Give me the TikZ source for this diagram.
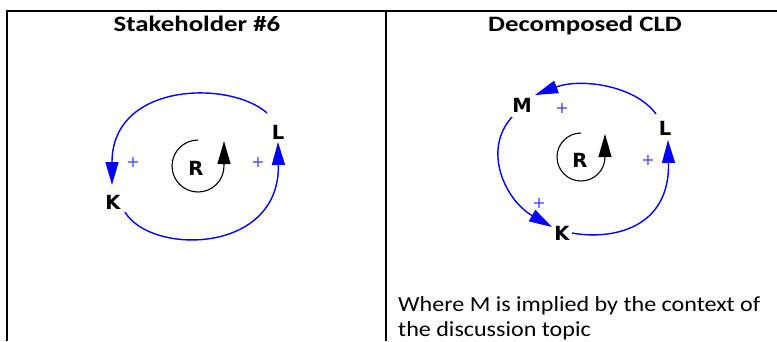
\documentclass[tikz,border=0pt]{standalone}
\usepackage{fontspec}
\setmainfont{Carlito}
\newfontfamily\tablefont[FakeStretch=1.12]{Carlito}
\newfontfamily\headfont[FakeStretch=1.22]{Carlito}
\newfontfamily\varfont{DejaVu Sans}
\usetikzlibrary{arrows.meta}

\begin{document}
\begin{tikzpicture}[x=1pt, y=-1pt, >={Triangle[length=23pt,width=13pt]},
  var/.style={inner sep=1pt, font=\varfont\fontsize{19.5}{19.5}\selectfont\bfseries},
  pol/.style={inner sep=0pt, text=blue!75, font=\varfont\fontsize{16}{16}\selectfont},
  link/.style={->, blue, line width=1.4pt},
  spin/.style={->, line width=1.1pt},
  head/.style={anchor=base, font=\headfont\fontsize{22}{22}\selectfont\bfseries}]
\useasboundingbox (0,0) rectangle (777,341);

% table frame
\draw[line width=2.3pt] (7,341) -- (7,11) -- (777,11);
\draw[line width=2.3pt] (386,11) -- (386,341);
\node[head] (h1) at (197,31) {Stakeholder \#6};
\node[head] (h2) at (585,31) {Decomposed CLD};

% stakeholder loop
\node[var] (K1) at (113,202) {K};
\node[var] (L1) at (278,132) {L};
\node[var] (R1) at (196,168) {R};
\node[pol] (p1) at (133,162) {+};
\node[pol] (p2) at (258,162) {+};
\draw[link] ([shift={(-11,-19)}]L1.center) .. controls +(-37,-33) and +(0,-103) .. ([shift={(-1,-17)}]K1.center);
\draw[link] ([shift={(12,10)}]K1.center) .. controls +(25,43) and +(2,113) .. ([shift={(0,10)}]L1.center);
\draw[spin] ([shift={(2,-28)}]R1.center) arc[start angle=-90, end angle=-360, radius=26] -- ++(0,-25);

% decomposed loop
\node[var] (M2) at (522,105) {M};
\node[var] (L2) at (665,128) {L};
\node[var] (K2) at (562,233) {K};
\node[var] (R2) at (580,160) {R};
\node[pol] (p3) at (562,108) {+};
\node[pol] (p4) at (648,160) {+};
\node[pol] (p5) at (539,203) {+};
\draw[link] ([shift={(-9,-14)}]L2.center) .. controls +(-21,-29) and +(45,-17) .. ([shift={(13,-10)}]M2.center);
\draw[link] ([shift={(-10,12)}]M2.center) .. controls +(-30,33) and +(-47,-27) .. ([shift={(-10,-6)}]K2.center);
\draw[link] ([shift={(10,0)}]K2.center) .. controls +(38,7) and +(2,90) .. ([shift={(3,12)}]L2.center);
\draw[spin] ([shift={(1,-27)}]R2.center) arc[start angle=-90, end angle=-360, radius=24] -- ++(0,-23);

\node[anchor=base west, align=left, inner sep=0pt, font=\tablefont\fontsize{21.5}{25}\selectfont] (note) at (398,336) {Where M is implied by the context of\\the discussion topic};
\end{tikzpicture}
\end{document}
